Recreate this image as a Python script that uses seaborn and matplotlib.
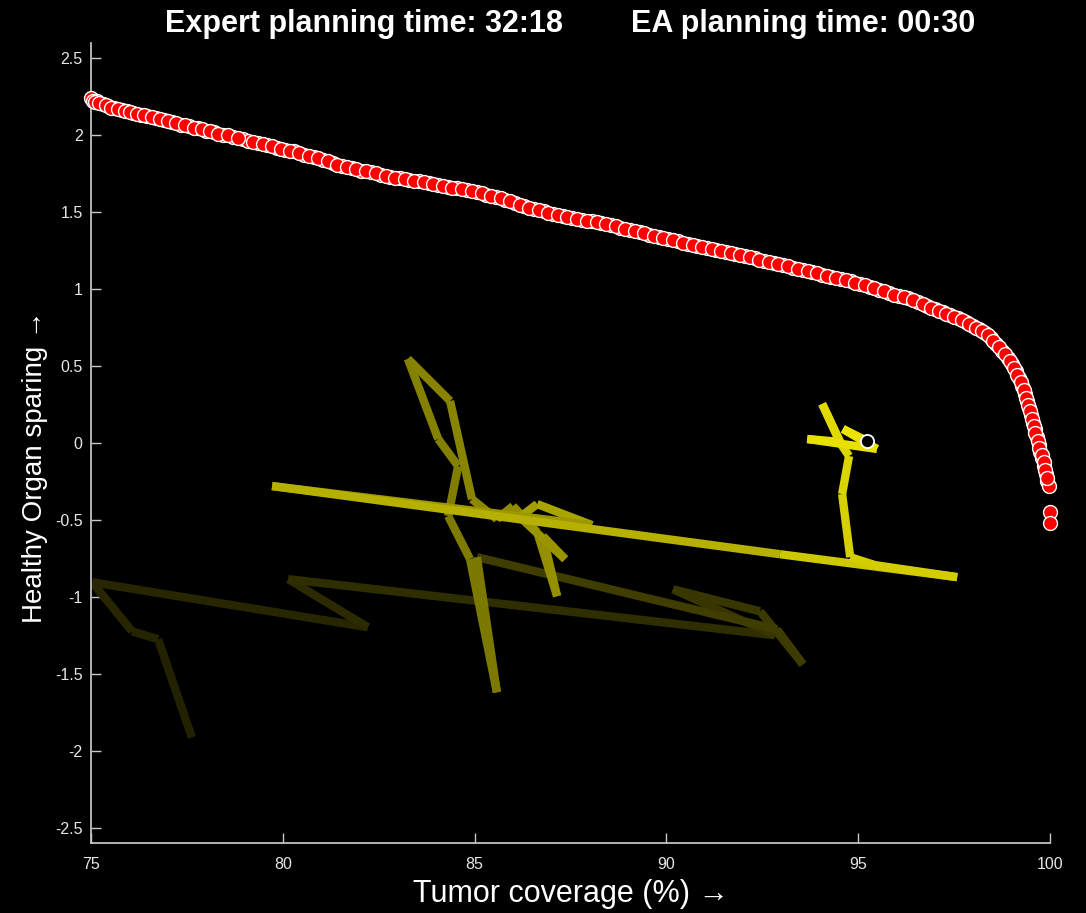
import numpy as np
import pandas as pd
import seaborn as sns
import matplotlib.pyplot as plt

# Pareto front found by the expert (red dots)
pareto_x = [75.00, 75.05, 75.15, 75.30, 75.45, 75.60, 75.80, 75.95, 76.10, 76.30,
            76.45, 76.70, 76.90, 77.10, 77.35, 77.55, 77.80, 78.00, 78.20, 78.45,
            78.70, 78.95, 79.10, 79.35, 79.60, 79.85, 80.05, 80.30, 80.55, 80.80,
            81.05, 81.30, 81.55, 81.80, 82.05, 82.30, 82.55, 82.80, 83.05, 83.30,
            83.55, 83.80, 84.05, 84.30, 84.55, 84.80, 85.05, 85.30, 85.55, 85.80,
            86.05, 86.30, 86.55, 86.80, 87.05, 87.30, 87.55, 87.80, 88.05, 88.30,
            88.55, 88.80, 89.05, 89.30, 89.55, 89.80, 90.05, 90.30, 90.55, 90.80,
            91.05, 91.30, 91.55, 91.80, 92.05, 92.30, 92.55, 92.80, 93.05, 93.30,
            93.55, 93.80, 94.05, 94.30, 94.55, 94.80, 95.05, 95.30, 95.55, 95.80,
            96.05, 96.30, 96.55, 96.80, 97.00, 97.20, 97.40, 97.60, 97.80, 98.00,
            98.15, 98.30, 98.45, 98.60, 98.75, 98.90, 99.00, 99.10, 99.20, 99.28,
            99.35, 99.40, 99.45, 99.50, 99.55, 99.60, 99.65, 99.70, 99.75, 99.80,
            99.85, 99.90, 99.93, 99.96, 100.00, 100.00,
            75.10, 75.22, 75.38, 75.52, 75.70, 75.88, 76.02, 76.20, 76.38, 76.58,
            76.80, 77.00, 77.22, 77.45, 77.68, 77.90, 78.10, 78.32, 78.58, 78.82,
            79.22, 79.48, 79.72, 79.95, 80.18, 80.42, 80.68, 80.92, 81.18, 81.42,
            81.68, 81.92, 82.18, 82.42, 82.68, 82.92, 83.18, 83.42, 83.68, 83.92,
            84.18, 84.42, 84.68, 84.92, 85.18, 85.42, 85.68, 85.92, 86.18, 86.42,
            86.68, 86.92, 87.18, 87.42, 87.68, 87.92, 88.18, 88.42, 88.68, 88.92,
            89.18, 89.42, 89.68, 89.92, 90.18, 90.42, 90.68, 90.92, 91.18, 91.42,
            91.68, 91.92, 92.18, 92.42, 92.68, 92.92, 93.18, 93.42, 93.68, 93.92,
            94.18, 94.42, 94.68, 94.92, 95.18, 95.42, 95.68, 95.92, 96.18, 96.42,
            96.68, 96.90, 97.10, 97.30, 97.50, 97.70, 97.90, 98.08, 98.22, 98.38,
            98.52, 98.68, 98.82, 98.95, 99.05, 99.15, 99.24, 99.32, 99.38, 99.43,
            99.48, 99.53, 99.58, 99.62, 99.68, 99.72, 99.78, 99.83, 99.88, 99.92]
pareto_y = [2.245, 2.225, 2.220, 2.205, 2.190, 2.175, 2.165, 2.155, 2.145, 2.135,
            2.125, 2.110, 2.100, 2.085, 2.070, 2.060, 2.045, 2.030, 2.020, 2.005,
            1.990, 1.975, 1.965, 1.950, 1.935, 1.920, 1.905, 1.895, 1.875, 1.860,
            1.840, 1.820, 1.800, 1.785, 1.770, 1.760, 1.745, 1.730, 1.720, 1.710,
            1.700, 1.690, 1.675, 1.665, 1.655, 1.645, 1.630, 1.615, 1.600, 1.580,
            1.560, 1.540, 1.520, 1.505, 1.490, 1.475, 1.460, 1.450, 1.440, 1.430,
            1.415, 1.400, 1.385, 1.370, 1.355, 1.340, 1.325, 1.310, 1.295, 1.280,
            1.265, 1.255, 1.240, 1.230, 1.215, 1.200, 1.185, 1.170, 1.155, 1.140,
            1.125, 1.110, 1.095, 1.080, 1.065, 1.050, 1.035, 1.015, 0.995, 0.975,
            0.955, 0.940, 0.915, 0.890, 0.870, 0.850, 0.830, 0.810, 0.785, 0.760,
            0.740, 0.715, 0.685, 0.645, 0.600, 0.555, 0.515, 0.470, 0.420, 0.370,
            0.320, 0.270, 0.230, 0.180, 0.130, 0.090, 0.040, -0.010, -0.060, -0.100,
            -0.150, -0.200, -0.250, -0.280, -0.450, -0.520,
            2.215, 2.210, 2.200, 2.180, 2.170, 2.160, 2.150, 2.140, 2.130, 2.120,
            2.105, 2.090, 2.080, 2.065, 2.050, 2.040, 2.025, 2.010, 2.000, 1.980,
            1.958, 1.942, 1.930, 1.912, 1.900, 1.885, 1.868, 1.850, 1.830, 1.810,
            1.792, 1.778, 1.765, 1.752, 1.738, 1.725, 1.715, 1.705, 1.695, 1.683,
            1.670, 1.660, 1.650, 1.638, 1.622, 1.607, 1.590, 1.570, 1.550, 1.530,
            1.512, 1.497, 1.482, 1.468, 1.455, 1.445, 1.435, 1.422, 1.408, 1.392,
            1.378, 1.362, 1.348, 1.332, 1.318, 1.302, 1.288, 1.272, 1.260, 1.248,
            1.235, 1.222, 1.208, 1.192, 1.178, 1.162, 1.148, 1.132, 1.118, 1.102,
            1.088, 1.072, 1.058, 1.042, 1.025, 1.005, 0.985, 0.965, 0.948, 0.928,
            0.902, 0.880, 0.860, 0.840, 0.820, 0.797, 0.772, 0.750, 0.728, 0.700,
            0.665, 0.622, 0.578, 0.535, 0.490, 0.445, 0.395, 0.345, 0.295, 0.250,
            0.205, 0.155, 0.110, 0.065, 0.015, -0.035, -0.080, -0.125, -0.175, -0.225]

# EA trajectory (older steps darker)
ea_x = [77.63, 76.75, 76.07, 75.03, 82.22, 80.14, 92.83, 90.17, 92.44, 93.56,
        92.88, 85.06, 85.58, 84.88, 84.31, 84.57, 84.05, 83.26, 84.36, 84.93,
        85.58, 86.00, 86.63, 87.15, 86.78, 87.36, 86.18, 86.63, 88.06, 79.72,
        92.96, 97.58, 95.44, 94.79, 94.58, 94.76, 94.53, 94.06, 94.53, 93.67,
        95.49, 94.60, 95.23]
ea_y = [-1.914, -1.276, -1.224, -0.905, -1.198, -0.885, -1.250, -0.951, -1.094, -1.439,
        -1.211, -0.742, -1.621, -0.755, -0.475, -0.150, 0.026, 0.547, 0.273, -0.365,
        -0.495, -0.410, -0.579, -0.996, -0.605, -0.755, -0.482, -0.397, -0.534, -0.280,
        -0.723, -0.872, -0.794, -0.742, -0.332, -0.085, 0.000, 0.254, 0.007, 0.026,
        -0.039, 0.091, 0.013]
ea_gen = [0, 2, 3, 4, 4, 6, 8, 12, 13, 14,
          15, 16, 46, 46, 47, 48, 49, 50, 51, 52,
          53, 55, 56, 57, 58, 59, 60, 66, 68, 62,
          74, 86, 88, 89, 90, 92, 93, 94, 95, 97,
          98, 99, 100]

title_txt = 'Expert planning time: 32:18        EA planning time: 00:30'

sns.set_theme(style='dark', rc={
    'figure.facecolor': 'black',
    'axes.facecolor': 'black',
    'axes.edgecolor': '#c8c8c8',
    'axes.grid': False,
    'xtick.bottom': True,
    'ytick.left': True,
    'xtick.color': '#c8c8c8',
    'ytick.color': '#c8c8c8',
    'xtick.labelcolor': '#e6e6e6',
    'ytick.labelcolor': '#e6e6e6',
    'axes.labelcolor': 'white',
    'text.color': 'white',
})
plt.rcParams['font.family'] = ['Liberation Sans', 'DejaVu Sans']

fig = plt.figure(figsize=(10.86, 9.13), dpi=100)
ax = fig.add_axes([0.0838, 0.0767, 0.8831, 0.8762])

# trajectory segments
rows = []
for i in range(len(ea_x) - 1):
    rows.append({'x': ea_x[i], 'y': ea_y[i], 'seg': i})
    rows.append({'x': ea_x[i + 1], 'y': ea_y[i + 1], 'seg': i})
seg_df = pd.DataFrame(rows)
pal = {}
for i in range(len(ea_x) - 1):
    v = 0.12 + 0.80 * ea_gen[i + 1] / 100
    pal[i] = (v, v * 0.97, 0.0)
sns.lineplot(data=seg_df, x='x', y='y', hue='seg', units='seg', palette=pal,
             estimator=None, sort=False, linewidth=6, legend=False,
             solid_capstyle='butt', ax=ax)

# expert pareto front
pf = pd.DataFrame({'x': pareto_x, 'y': pareto_y})
sns.scatterplot(data=pf, x='x', y='y', color='red', edgecolor='white',
                linewidth=1.0, s=100, clip_on=False, zorder=5, ax=ax)

# current EA solution
sns.scatterplot(x=[ea_x[-1]], y=[ea_y[-1]], color='black', edgecolor='white',
                linewidth=1.3, s=90, zorder=6, ax=ax)

ax.set_xlim(75, 100)
ax.set_ylim(-2.6, 2.6)
ax.set_xticks(np.arange(75, 101, 5))
ax.set_yticks(np.arange(-2.5, 2.51, 0.5))
ax.set_yticklabels(['-2.5', '-2', '-1.5', '-1', '-0.5', '0', '0.5', '1', '1.5', '2', '2.5'])
ax.tick_params(direction='in', length=7, width=1, labelsize=11.5)
ax.tick_params(axis='x', pad=10)
ax.tick_params(axis='y', pad=6)
ax.spines['top'].set_visible(False)
ax.spines['right'].set_visible(False)

ax.set_xlabel('Tumor coverage (%) \u2192', fontsize=22)
ax.set_ylabel('Healthy Organ sparing \u2192', fontsize=20)
ax.xaxis.set_label_coords(0.5, -0.045)
ax.yaxis.set_label_coords(-0.045, 0.47)
ax.set_title(title_txt, fontsize=22, fontweight='bold', color='white', pad=8)

plt.savefig('out.png', dpi=100, facecolor='black')
